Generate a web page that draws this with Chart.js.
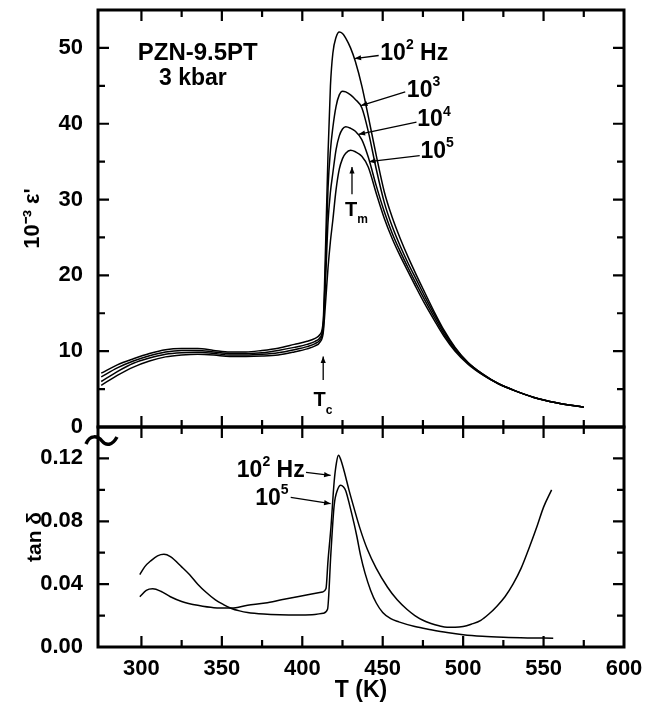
<!DOCTYPE html>
<html>
<head>
<meta charset="utf-8">
<script src="https://cdn.jsdelivr.net/npm/chart.js@4.4.0/dist/chart.umd.min.js"></script>
<style>
body{margin:0;background:#fff;}
#wrap{position:relative;width:657px;height:704px;}
canvas{position:absolute;left:0;}
#epsChart{top:0;}
#tanChart{top:420px;}
</style>
</head>
<body>
<div id="wrap">
<canvas id="epsChart" width="657" height="440"></canvas>
<canvas id="tanChart" width="657" height="284"></canvas>
</div>
<script>
// temperature (K) shared by the four permittivity curves
const temps = [275, 285, 295, 305, 315, 325, 335, 345, 355, 365, 375, 385, 395, 403, 408, 411, 413, 414.5, 416, 417.5,
  419, 421, 423, 425, 427, 430, 433, 437, 441, 446, 451, 456, 461, 466, 471, 476, 482, 488, 495, 503,
  512, 522, 532, 544, 558, 575]
// 10^-3 eps' at 10^2, 10^3, 10^4, 10^5 Hz
const eps100 = [7.1, 8.2, 9.0, 9.7, 10.2, 10.35, 10.35, 10.1, 9.9, 9.9, 10.1, 10.4, 10.9, 11.3, 11.7, 12.2, 14.0, 24.0, 36.0, 45.0,
  49.3, 51.4, 52.1, 51.9, 51.3, 50.0, 48.2, 45.0, 41.0, 35.8, 31.0, 27.6, 24.8, 22.3, 20.0, 17.8, 15.2, 12.8, 10.5, 8.5,
  7.0, 5.7, 4.8, 3.9, 3.2, 2.6]
const eps1k = [6.6, 7.8, 8.7, 9.4, 9.9, 10.1, 10.1, 9.9, 9.7, 9.7, 9.8, 10.1, 10.5, 10.9, 11.3, 11.8, 13.4, 21.5, 31.5, 36.5,
  39.5, 42.3, 43.8, 44.3, 44.2, 43.8, 43.2, 42.1, 39.0, 34.0, 29.6, 26.4, 23.8, 21.5, 19.4, 17.3, 14.9, 12.6, 10.4, 8.5,
  7.0, 5.7, 4.8, 3.9, 3.2, 2.6]
const eps10k = [6.0, 7.3, 8.4, 9.1, 9.6, 9.8, 9.85, 9.7, 9.5, 9.5, 9.6, 9.8, 10.2, 10.6, 11.0, 11.5, 12.9, 19.5, 27.0, 31.0,
  33.5, 36.6, 38.4, 39.3, 39.6, 39.4, 39.0, 37.9, 35.6, 31.8, 28.4, 25.5, 23.1, 20.9, 18.8, 16.8, 14.5, 12.3, 10.2, 8.4,
  6.9, 5.7, 4.8, 3.9, 3.2, 2.6]
const eps100k = [5.5, 6.8, 7.9, 8.7, 9.25, 9.5, 9.6, 9.5, 9.3, 9.3, 9.35, 9.5, 9.9, 10.3, 10.7, 11.2, 12.4, 16.5, 21.0, 24.5,
  27.3, 31.3, 34.0, 35.4, 36.1, 36.5, 36.3, 35.7, 34.3, 30.8, 27.5, 24.8, 22.5, 20.4, 18.3, 16.3, 14.1, 12.0, 10.0, 8.3,
  6.9, 5.7, 4.8, 3.9, 3.2, 2.6]

// tan delta at 10^2 Hz
const tanTemps100 = [299, 303, 307, 312, 318, 325, 335, 345, 356, 366, 377, 387, 397, 405, 412.5, 414.7, 416, 417.8, 419.8, 421.2,
  422.5, 424, 426, 429, 432, 436, 440.5, 446, 453, 459, 465, 470, 475, 480, 485, 490, 495, 500, 505, 511,
  516, 521, 526, 531, 536, 541, 546, 550, 555]
const tan100 = [0.032, 0.036, 0.037, 0.0355, 0.032, 0.029, 0.0265, 0.025, 0.0248, 0.0265, 0.028, 0.030, 0.032, 0.0335, 0.035, 0.037, 0.055, 0.076, 0.105, 0.117,
  0.122, 0.119, 0.112, 0.100, 0.089, 0.075, 0.062, 0.050, 0.038, 0.030, 0.024, 0.020, 0.017, 0.015, 0.0135, 0.0125, 0.0125, 0.013, 0.0145, 0.017,
  0.021, 0.026, 0.032, 0.040, 0.050, 0.063, 0.077, 0.089, 0.100]
// tan delta at 10^5 Hz
const tanTemps100k = [299, 302, 306, 310, 314, 318, 325, 330, 335, 340, 346, 351, 356, 361, 366, 376, 386, 397, 406, 413,
  415.7, 417.8, 419.8, 421.9, 423.9, 425.5, 427, 429.5, 432.2, 434, 436.3, 439, 442.5, 446, 450, 455, 460, 470, 480, 490,
  500, 512, 525, 540, 556]
const tan100k = [0.046, 0.051, 0.055, 0.058, 0.059, 0.0575, 0.051, 0.046, 0.040, 0.035, 0.030, 0.027, 0.0245, 0.023, 0.022, 0.021, 0.0205, 0.0203, 0.0205, 0.0215,
  0.024, 0.060, 0.090, 0.100, 0.103, 0.102, 0.0995, 0.090, 0.0785, 0.070, 0.058, 0.047, 0.036, 0.028, 0.022, 0.018, 0.016, 0.013, 0.011, 0.0092,
  0.0078, 0.0068, 0.0062, 0.0058, 0.0056]

// tick labels
const tempTicks = [300, 350, 400, 450, 500, 550, 600]
const epsTicks = [0, 10, 20, 30, 40, 50]
const tanTicks = [0, 0.04, 0.08, 0.12]

const FONT = '"Liberation Sans", Arial, sans-serif'

function series(xs, ys){
    return {
        data: xs.map((t, i) => ({x: t, y: ys[i]})),
        borderColor: '#000',
        borderWidth: 1.5,
        pointRadius: 0,
        fill: false,
        cubicInterpolationMode: 'monotone'
    }
}

function richText(ctx, x, y, parts, align, size = 23){
    // parts: [text, ''|'sup'|'sub']
    const small = Math.round(size * 0.6)
    const fontFor = k => 'bold ' + (k ? small : size) + 'px ' + FONT
    let w = 0
    parts.forEach(([t, k]) => { ctx.font = fontFor(k); w += ctx.measureText(t).width })
    let cx = align === 'right' ? x - w : align === 'center' ? x - w / 2 : x
    ctx.textAlign = 'left'
    ctx.textBaseline = 'middle'
    parts.forEach(([t, k]) => {
        ctx.font = fontFor(k)
        const dy = k === 'sup' ? -size * 0.36 : k === 'sub' ? size * 0.5 : 0
        ctx.fillText(t, cx, y + dy)
        cx += ctx.measureText(t).width
    })
}

function arrow(ctx, x1, y1, x2, y2){
    const ang = Math.atan2(y2 - y1, x2 - x1), h = 7
    ctx.beginPath()
    ctx.moveTo(x1, y1)
    ctx.lineTo(x2, y2)
    ctx.stroke()
    ctx.beginPath()
    ctx.moveTo(x2, y2)
    ctx.lineTo(x2 - h * Math.cos(ang - 0.38), y2 - h * Math.sin(ang - 0.38))
    ctx.lineTo(x2 - h * Math.cos(ang + 0.38), y2 - h * Math.sin(ang + 0.38))
    ctx.closePath()
    ctx.fill()
}

function panelFrame(xMajor, yMajor, notes){
    /**draws the box, inward ticks on all four sides and the text notes */
    return {
        id: 'panelFrame',
        afterDatasetsDraw(chart){
            const {ctx, chartArea: a, scales: {x, y}} = chart
            const mids = arr => arr.slice(1).map((v, i) => (v + arr[i]) / 2)
            ctx.save()
            ctx.strokeStyle = '#000'
            ctx.fillStyle = '#000'
            ctx.lineWidth = 3
            ctx.strokeRect(a.left, a.top, a.right - a.left, a.bottom - a.top)
            ctx.lineWidth = 2.2
            const xTick = (vals, len) => vals.forEach(v => {
                const p = x.getPixelForValue(v)
                if (p <= a.left + 2 || p >= a.right - 2) return
                ctx.beginPath()
                ctx.moveTo(p, a.bottom); ctx.lineTo(p, a.bottom - len)
                ctx.moveTo(p, a.top); ctx.lineTo(p, a.top + len)
                ctx.stroke()
            })
            const yTick = (vals, len) => vals.forEach(v => {
                const p = y.getPixelForValue(v)
                if (p <= a.top + 2 || p >= a.bottom - 2) return
                ctx.beginPath()
                ctx.moveTo(a.left, p); ctx.lineTo(a.left + len, p)
                ctx.moveTo(a.right, p); ctx.lineTo(a.right - len, p)
                ctx.stroke()
            })
            xTick(xMajor, 11)
            xTick(mids(xMajor), 7)
            yTick(yMajor, 11)
            yTick(mids(yMajor), 7)
            ctx.lineWidth = 1.3
            notes(ctx, v => x.getPixelForValue(v), v => y.getPixelForValue(v), a)
            ctx.restore()
        }
    }
}

function epsNotes(ctx, px, py){
    richText(ctx, px(335), py(49.3), [['PZN-9.5PT', '']], 'center', 24)
    richText(ctx, px(332), py(45.9), [['3 kbar', '']], 'center', 23)
    richText(ctx, px(448.5), py(49.3), [['10', ''], ['2', 'sup'], [' Hz', '']], 'left')
    arrow(ctx, px(447.5), py(49.0), px(432.5), py(48.6))
    richText(ctx, px(465), py(44.4), [['10', ''], ['3', 'sup']], 'left')
    arrow(ctx, px(464), py(44.2), px(436.5), py(42.4))
    richText(ctx, px(471.5), py(40.5), [['10', ''], ['4', 'sup']], 'left')
    arrow(ctx, px(471), py(40.2), px(435), py(38.6))
    richText(ctx, px(473.5), py(36.3), [['10', ''], ['5', 'sup']], 'left')
    arrow(ctx, px(473), py(35.8), px(441.5), py(35.0))
    // T_m and T_c markers
    arrow(ctx, px(430.9), py(30.7), px(430.9), py(34.3))
    richText(ctx, px(426.5), py(28.6), [['T', ''], ['m', 'sub']], 'left', 20)
    arrow(ctx, px(413), py(6.2), px(413), py(9.3))
    richText(ctx, px(407), py(3.5), [['T', ''], ['c', 'sub']], 'left', 20)
}

function tanNotes(ctx, px, py, a){
    richText(ctx, px(401.5), py(0.1121), [['10', ''], ['2', 'sup'], [' Hz', '']], 'right')
    arrow(ctx, px(402.3), py(0.1111), px(417.6), py(0.1092))
    richText(ctx, px(391.5), py(0.0946), [['10', ''], ['5', 'sup']], 'right')
    arrow(ctx, px(392.8), py(0.0952), px(417.6), py(0.0912))
    // axis break mark
    ctx.lineWidth = 3.5
    ctx.beginPath()
    ctx.moveTo(a.left - 12, a.top + 17)
    ctx.bezierCurveTo(a.left - 8, a.top + 7, a.left, a.top + 9, a.left + 4, a.top + 14)
    ctx.bezierCurveTo(a.left + 8, a.top + 19, a.left + 14, a.top + 19, a.left + 19, a.top + 10)
    ctx.stroke()
}

const tickFont = {family: FONT, size: 22, weight: 'bold'}
const setTicks = vals => s => { s.ticks = vals.map(v => ({value: v})) }
// fixed axis sizes, and no extra room for the end labels
const fitY = s => { s.width = 98; s.paddingTop = 0; s.paddingBottom = 0 }
const fitX = s => { s.height = 57; s.paddingLeft = 0; s.paddingRight = 0 }

new Chart(document.getElementById('epsChart'), {
    type: 'line',
    data: {datasets: [series(temps, eps100), series(temps, eps1k), series(temps, eps10k), series(temps, eps100k)]},
    options: {
        responsive: false,
        animation: false,
        devicePixelRatio: 1,
        layout: {padding: {left: 0, right: 33, top: 10, bottom: 13}},
        plugins: {legend: {display: false}, tooltip: {enabled: false}},
        scales: {
            x: {type: 'linear', min: 273, max: 600, display: false, afterBuildTicks: setTicks(tempTicks)},
            y: {
                min: 0, max: 55,
                afterBuildTicks: setTicks(epsTicks),
                afterFit: fitY,
                grid: {display: false, drawTicks: false},
                border: {display: false},
                ticks: {padding: 15, color: '#000', font: tickFont},
                title: {display: true, text: "10⁻³ ε'", color: '#000', padding: {top: 20, bottom: 0},
                    font: {family: FONT, size: 22, weight: 'bold'}}
            }
        }
    },
    plugins: [panelFrame(tempTicks, epsTicks, epsNotes)]
})

new Chart(document.getElementById('tanChart'), {
    type: 'line',
    data: {datasets: [series(tanTemps100, tan100), series(tanTemps100k, tan100k)]},
    options: {
        responsive: false,
        animation: false,
        devicePixelRatio: 1,
        layout: {padding: {left: 0, right: 33, top: 7, bottom: 0}},
        plugins: {legend: {display: false}, tooltip: {enabled: false}},
        scales: {
            x: {
                type: 'linear', min: 273, max: 600,
                afterBuildTicks: setTicks(tempTicks),
                afterFit: fitX,
                grid: {display: false, drawTicks: false},
                border: {display: false},
                ticks: {padding: 9, color: '#000', font: tickFont, maxRotation: 0, callback: v => v},
                title: {display: true, text: 'T (K)', color: '#000', padding: {top: 0, bottom: 0},
                    font: {family: FONT, size: 23, weight: 'bold'}}
            },
            y: {
                min: 0, max: 0.14,
                afterBuildTicks: setTicks(tanTicks),
                afterFit: fitY,
                grid: {display: false, drawTicks: false},
                border: {display: false},
                ticks: {padding: 15, color: '#000', font: tickFont, callback: v => v.toFixed(2)},
                title: {display: true, text: 'tan δ', color: '#000', padding: {top: 23, bottom: 0},
                    font: {family: FONT, size: 21, weight: 'bold'}}
            }
        }
    },
    plugins: [panelFrame(tempTicks, tanTicks, tanNotes)]
})
</script>
</body>
</html>
